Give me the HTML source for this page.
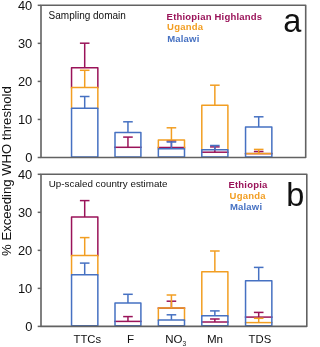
<!DOCTYPE html>
<html><head><meta charset="utf-8"><style>
html,body{margin:0;padding:0;background:#fff;}
body{width:308px;height:347px;overflow:hidden;}
svg{display:block;font-family:"Liberation Sans",sans-serif;}
svg{will-change:transform;}
</style></head><body>
<svg width="308" height="347" viewBox="0 0 308 347">
<line x1="84.70" y1="67.80" x2="84.70" y2="43.20" stroke="#9a1359" stroke-width="1.5" stroke-linecap="butt"/>
<line x1="79.90" y1="43.20" x2="89.50" y2="43.20" stroke="#9a1359" stroke-width="1.5" stroke-linecap="butt"/>
<path d="M71.55,88.35 L71.55,67.80 L97.85,67.80 L97.85,88.35" fill="none" stroke="#9a1359" stroke-width="1.5" stroke-linejoin="round" stroke-linecap="butt"/>
<line x1="84.70" y1="87.60" x2="84.70" y2="70.30" stroke="#f29e22" stroke-width="1.5" stroke-linecap="butt"/>
<line x1="79.90" y1="70.30" x2="89.50" y2="70.30" stroke="#f29e22" stroke-width="1.5" stroke-linecap="butt"/>
<path d="M71.55,108.95 L71.55,87.60 L97.85,87.60 L97.85,108.95" fill="none" stroke="#f29e22" stroke-width="1.5" stroke-linejoin="round" stroke-linecap="butt"/>
<line x1="84.70" y1="108.20" x2="84.70" y2="96.50" stroke="#4671c2" stroke-width="1.5" stroke-linecap="butt"/>
<line x1="79.90" y1="96.50" x2="89.50" y2="96.50" stroke="#4671c2" stroke-width="1.5" stroke-linecap="butt"/>
<path d="M71.55,156.95 L71.55,108.20 L97.85,108.20 L97.85,156.95 Z" fill="none" stroke="#4671c2" stroke-width="1.5" stroke-linejoin="round" stroke-linecap="butt"/>
<line x1="127.95" y1="147.30" x2="127.95" y2="137.10" stroke="#9a1359" stroke-width="1.5" stroke-linecap="butt"/>
<line x1="123.15" y1="137.10" x2="132.75" y2="137.10" stroke="#9a1359" stroke-width="1.5" stroke-linecap="butt"/>
<line x1="114.25" y1="147.30" x2="141.65" y2="147.30" stroke="#9a1359" stroke-width="1.5" stroke-linecap="butt"/>
<line x1="127.95" y1="132.40" x2="127.95" y2="121.80" stroke="#4671c2" stroke-width="1.5" stroke-linecap="butt"/>
<line x1="123.15" y1="121.80" x2="132.75" y2="121.80" stroke="#4671c2" stroke-width="1.5" stroke-linecap="butt"/>
<path d="M115.00,156.95 L115.00,132.40 L140.90,132.40 L140.90,156.95 Z" fill="none" stroke="#4671c2" stroke-width="1.5" stroke-linejoin="round" stroke-linecap="butt"/>
<line x1="171.43" y1="147.50" x2="171.43" y2="140.90" stroke="#9a1359" stroke-width="1.5" stroke-linecap="butt"/>
<line x1="166.62" y1="140.90" x2="176.23" y2="140.90" stroke="#9a1359" stroke-width="1.5" stroke-linecap="butt"/>
<line x1="157.60" y1="147.50" x2="185.25" y2="147.50" stroke="#9a1359" stroke-width="1.5" stroke-linecap="butt"/>
<line x1="171.43" y1="140.00" x2="171.43" y2="127.80" stroke="#f29e22" stroke-width="1.5" stroke-linecap="butt"/>
<line x1="166.62" y1="127.80" x2="176.23" y2="127.80" stroke="#f29e22" stroke-width="1.5" stroke-linecap="butt"/>
<path d="M158.35,149.55 L158.35,140.00 L184.50,140.00 L184.50,149.55" fill="none" stroke="#f29e22" stroke-width="1.5" stroke-linejoin="round" stroke-linecap="butt"/>
<line x1="171.43" y1="148.80" x2="171.43" y2="142.00" stroke="#4671c2" stroke-width="1.5" stroke-linecap="butt"/>
<line x1="166.62" y1="142.00" x2="176.23" y2="142.00" stroke="#4671c2" stroke-width="1.5" stroke-linecap="butt"/>
<path d="M158.35,156.95 L158.35,148.80 L184.50,148.80 L184.50,156.95 Z" fill="none" stroke="#4671c2" stroke-width="1.5" stroke-linejoin="round" stroke-linecap="butt"/>
<line x1="214.85" y1="152.20" x2="214.85" y2="146.90" stroke="#9a1359" stroke-width="1.5" stroke-linecap="butt"/>
<line x1="210.05" y1="146.90" x2="219.65" y2="146.90" stroke="#9a1359" stroke-width="1.5" stroke-linecap="butt"/>
<line x1="201.05" y1="152.20" x2="228.65" y2="152.20" stroke="#9a1359" stroke-width="1.5" stroke-linecap="butt"/>
<line x1="214.85" y1="105.20" x2="214.85" y2="85.20" stroke="#f29e22" stroke-width="1.5" stroke-linecap="butt"/>
<line x1="210.05" y1="85.20" x2="219.65" y2="85.20" stroke="#f29e22" stroke-width="1.5" stroke-linecap="butt"/>
<path d="M201.80,150.55 L201.80,105.20 L227.90,105.20 L227.90,150.55" fill="none" stroke="#f29e22" stroke-width="1.5" stroke-linejoin="round" stroke-linecap="butt"/>
<line x1="214.85" y1="149.80" x2="214.85" y2="145.50" stroke="#4671c2" stroke-width="1.5" stroke-linecap="butt"/>
<line x1="210.05" y1="145.50" x2="219.65" y2="145.50" stroke="#4671c2" stroke-width="1.5" stroke-linecap="butt"/>
<path d="M201.80,156.95 L201.80,149.80 L227.90,149.80 L227.90,156.95 Z" fill="none" stroke="#4671c2" stroke-width="1.5" stroke-linejoin="round" stroke-linecap="butt"/>
<line x1="258.70" y1="153.60" x2="258.70" y2="151.50" stroke="#9a1359" stroke-width="1.5" stroke-linecap="butt"/>
<line x1="253.90" y1="151.50" x2="263.50" y2="151.50" stroke="#9a1359" stroke-width="1.5" stroke-linecap="butt"/>
<line x1="244.80" y1="153.60" x2="272.60" y2="153.60" stroke="#9a1359" stroke-width="1.5" stroke-linecap="butt"/>
<line x1="258.70" y1="153.60" x2="258.70" y2="149.40" stroke="#f29e22" stroke-width="1.5" stroke-linecap="butt"/>
<line x1="253.90" y1="149.40" x2="263.50" y2="149.40" stroke="#f29e22" stroke-width="1.5" stroke-linecap="butt"/>
<line x1="244.80" y1="153.60" x2="272.60" y2="153.60" stroke="#f29e22" stroke-width="1.5" stroke-linecap="butt"/>
<line x1="258.70" y1="127.00" x2="258.70" y2="116.80" stroke="#4671c2" stroke-width="1.5" stroke-linecap="butt"/>
<line x1="253.90" y1="116.80" x2="263.50" y2="116.80" stroke="#4671c2" stroke-width="1.5" stroke-linecap="butt"/>
<path d="M245.55,156.95 L245.55,127.00 L271.85,127.00 L271.85,156.95 Z" fill="none" stroke="#4671c2" stroke-width="1.5" stroke-linejoin="round" stroke-linecap="butt"/>
<path d="M41.0,5.3 H305.7 V157.5 H41.0 Z" fill="none" stroke="#626262" stroke-width="1.6" stroke-linejoin="round"/>
<line x1="37.70" y1="157.50" x2="41.00" y2="157.50" stroke="#626262" stroke-width="1.5" stroke-linecap="butt"/>
<text x="32.3" y="161.75" font-size="12.9" fill="#111" text-anchor="end">0</text>
<line x1="37.70" y1="119.45" x2="41.00" y2="119.45" stroke="#626262" stroke-width="1.5" stroke-linecap="butt"/>
<text x="32.3" y="123.7" font-size="12.9" fill="#111" text-anchor="end">10</text>
<line x1="37.70" y1="81.40" x2="41.00" y2="81.40" stroke="#626262" stroke-width="1.5" stroke-linecap="butt"/>
<text x="32.3" y="85.65" font-size="12.9" fill="#111" text-anchor="end">20</text>
<line x1="37.70" y1="43.35" x2="41.00" y2="43.35" stroke="#626262" stroke-width="1.5" stroke-linecap="butt"/>
<text x="32.3" y="47.60000000000001" font-size="12.9" fill="#111" text-anchor="end">30</text>
<line x1="37.70" y1="5.30" x2="41.00" y2="5.30" stroke="#626262" stroke-width="1.5" stroke-linecap="butt"/>
<text x="32.3" y="9.550000000000011" font-size="12.9" fill="#111" text-anchor="end">40</text>
<line x1="84.70" y1="217.00" x2="84.70" y2="200.60" stroke="#9a1359" stroke-width="1.5" stroke-linecap="butt"/>
<line x1="79.90" y1="200.60" x2="89.50" y2="200.60" stroke="#9a1359" stroke-width="1.5" stroke-linecap="butt"/>
<path d="M71.55,256.35 L71.55,217.00 L97.85,217.00 L97.85,256.35" fill="none" stroke="#9a1359" stroke-width="1.5" stroke-linejoin="round" stroke-linecap="butt"/>
<line x1="84.70" y1="255.60" x2="84.70" y2="237.60" stroke="#f29e22" stroke-width="1.5" stroke-linecap="butt"/>
<line x1="79.90" y1="237.60" x2="89.50" y2="237.60" stroke="#f29e22" stroke-width="1.5" stroke-linecap="butt"/>
<path d="M71.55,275.55 L71.55,255.60 L97.85,255.60 L97.85,275.55" fill="none" stroke="#f29e22" stroke-width="1.5" stroke-linejoin="round" stroke-linecap="butt"/>
<line x1="84.70" y1="274.80" x2="84.70" y2="263.10" stroke="#4671c2" stroke-width="1.5" stroke-linecap="butt"/>
<line x1="79.90" y1="263.10" x2="89.50" y2="263.10" stroke="#4671c2" stroke-width="1.5" stroke-linecap="butt"/>
<path d="M71.55,325.85 L71.55,274.80 L97.85,274.80 L97.85,325.85 Z" fill="none" stroke="#4671c2" stroke-width="1.5" stroke-linejoin="round" stroke-linecap="butt"/>
<line x1="127.95" y1="321.40" x2="127.95" y2="316.60" stroke="#9a1359" stroke-width="1.5" stroke-linecap="butt"/>
<line x1="123.15" y1="316.60" x2="132.75" y2="316.60" stroke="#9a1359" stroke-width="1.5" stroke-linecap="butt"/>
<line x1="114.25" y1="321.40" x2="141.65" y2="321.40" stroke="#9a1359" stroke-width="1.5" stroke-linecap="butt"/>
<line x1="127.95" y1="303.00" x2="127.95" y2="294.30" stroke="#4671c2" stroke-width="1.5" stroke-linecap="butt"/>
<line x1="123.15" y1="294.30" x2="132.75" y2="294.30" stroke="#4671c2" stroke-width="1.5" stroke-linecap="butt"/>
<path d="M115.00,325.85 L115.00,303.00 L140.90,303.00 L140.90,325.85 Z" fill="none" stroke="#4671c2" stroke-width="1.5" stroke-linejoin="round" stroke-linecap="butt"/>
<line x1="171.43" y1="308.10" x2="171.43" y2="301.20" stroke="#9a1359" stroke-width="1.5" stroke-linecap="butt"/>
<line x1="166.62" y1="301.20" x2="176.23" y2="301.20" stroke="#9a1359" stroke-width="1.5" stroke-linecap="butt"/>
<line x1="157.60" y1="308.10" x2="185.25" y2="308.10" stroke="#9a1359" stroke-width="1.5" stroke-linecap="butt"/>
<line x1="171.43" y1="308.10" x2="171.43" y2="295.00" stroke="#f29e22" stroke-width="1.5" stroke-linecap="butt"/>
<line x1="166.62" y1="295.00" x2="176.23" y2="295.00" stroke="#f29e22" stroke-width="1.5" stroke-linecap="butt"/>
<path d="M158.35,320.65 L158.35,308.10 L184.50,308.10 L184.50,320.65" fill="none" stroke="#f29e22" stroke-width="1.5" stroke-linejoin="round" stroke-linecap="butt"/>
<line x1="171.43" y1="319.90" x2="171.43" y2="314.80" stroke="#4671c2" stroke-width="1.5" stroke-linecap="butt"/>
<line x1="166.62" y1="314.80" x2="176.23" y2="314.80" stroke="#4671c2" stroke-width="1.5" stroke-linecap="butt"/>
<path d="M158.35,325.85 L158.35,319.90 L184.50,319.90 L184.50,325.85 Z" fill="none" stroke="#4671c2" stroke-width="1.5" stroke-linejoin="round" stroke-linecap="butt"/>
<line x1="214.85" y1="322.00" x2="214.85" y2="319.00" stroke="#9a1359" stroke-width="1.5" stroke-linecap="butt"/>
<line x1="210.05" y1="319.00" x2="219.65" y2="319.00" stroke="#9a1359" stroke-width="1.5" stroke-linecap="butt"/>
<line x1="201.05" y1="322.00" x2="228.65" y2="322.00" stroke="#9a1359" stroke-width="1.5" stroke-linecap="butt"/>
<line x1="214.85" y1="271.80" x2="214.85" y2="251.00" stroke="#f29e22" stroke-width="1.5" stroke-linecap="butt"/>
<line x1="210.05" y1="251.00" x2="219.65" y2="251.00" stroke="#f29e22" stroke-width="1.5" stroke-linecap="butt"/>
<path d="M201.80,316.55 L201.80,271.80 L227.90,271.80 L227.90,316.55" fill="none" stroke="#f29e22" stroke-width="1.5" stroke-linejoin="round" stroke-linecap="butt"/>
<line x1="214.85" y1="315.80" x2="214.85" y2="310.90" stroke="#4671c2" stroke-width="1.5" stroke-linecap="butt"/>
<line x1="210.05" y1="310.90" x2="219.65" y2="310.90" stroke="#4671c2" stroke-width="1.5" stroke-linecap="butt"/>
<path d="M201.80,325.85 L201.80,315.80 L227.90,315.80 L227.90,325.85 Z" fill="none" stroke="#4671c2" stroke-width="1.5" stroke-linejoin="round" stroke-linecap="butt"/>
<line x1="258.70" y1="317.10" x2="258.70" y2="312.40" stroke="#9a1359" stroke-width="1.5" stroke-linecap="butt"/>
<line x1="253.90" y1="312.40" x2="263.50" y2="312.40" stroke="#9a1359" stroke-width="1.5" stroke-linecap="butt"/>
<line x1="244.80" y1="317.10" x2="272.60" y2="317.10" stroke="#9a1359" stroke-width="1.5" stroke-linecap="butt"/>
<line x1="258.70" y1="322.60" x2="258.70" y2="318.30" stroke="#f29e22" stroke-width="1.5" stroke-linecap="butt"/>
<line x1="253.90" y1="318.30" x2="263.50" y2="318.30" stroke="#f29e22" stroke-width="1.5" stroke-linecap="butt"/>
<line x1="244.80" y1="322.60" x2="272.60" y2="322.60" stroke="#f29e22" stroke-width="1.5" stroke-linecap="butt"/>
<line x1="258.70" y1="280.80" x2="258.70" y2="267.40" stroke="#4671c2" stroke-width="1.5" stroke-linecap="butt"/>
<line x1="253.90" y1="267.40" x2="263.50" y2="267.40" stroke="#4671c2" stroke-width="1.5" stroke-linecap="butt"/>
<path d="M245.55,325.85 L245.55,280.80 L271.85,280.80 L271.85,325.85 Z" fill="none" stroke="#4671c2" stroke-width="1.5" stroke-linejoin="round" stroke-linecap="butt"/>
<path d="M41.0,174.3 H306.8 V326.4 H41.0 Z" fill="none" stroke="#626262" stroke-width="1.6" stroke-linejoin="round"/>
<line x1="37.70" y1="326.40" x2="41.00" y2="326.40" stroke="#626262" stroke-width="1.5" stroke-linecap="butt"/>
<text x="32.3" y="330.65" font-size="12.9" fill="#111" text-anchor="end">0</text>
<line x1="37.70" y1="288.38" x2="41.00" y2="288.38" stroke="#626262" stroke-width="1.5" stroke-linecap="butt"/>
<text x="32.3" y="292.625" font-size="12.9" fill="#111" text-anchor="end">10</text>
<line x1="37.70" y1="250.35" x2="41.00" y2="250.35" stroke="#626262" stroke-width="1.5" stroke-linecap="butt"/>
<text x="32.3" y="254.6" font-size="12.9" fill="#111" text-anchor="end">20</text>
<line x1="37.70" y1="212.32" x2="41.00" y2="212.32" stroke="#626262" stroke-width="1.5" stroke-linecap="butt"/>
<text x="32.3" y="216.575" font-size="12.9" fill="#111" text-anchor="end">30</text>
<line x1="37.70" y1="174.30" x2="41.00" y2="174.30" stroke="#626262" stroke-width="1.5" stroke-linecap="butt"/>
<text x="32.3" y="178.55" font-size="12.9" fill="#111" text-anchor="end">40</text>
<text x="48.6" y="19.2" font-size="10" fill="#111" text-anchor="start">Sampling domain</text>
<text x="166.6" y="19.9" font-size="9.5" fill="#9a1359" font-weight="bold" text-anchor="start" letter-spacing="0.2">Ethiopian Highlands</text>
<text x="167.1" y="30.3" font-size="9.5" fill="#f29e22" font-weight="bold" text-anchor="start" letter-spacing="0.2">Uganda</text>
<text x="167.2" y="41.6" font-size="9.5" fill="#4671c2" font-weight="bold" text-anchor="start" letter-spacing="0.2">Malawi</text>
<text x="283.2" y="31.5" font-size="32.5" fill="#111" text-anchor="start">a</text>
<text x="48.8" y="186.9" font-size="9.8" fill="#111" text-anchor="start">Up-scaled country estimate</text>
<text x="228.4" y="187.6" font-size="9.5" fill="#9a1359" font-weight="bold" text-anchor="start" letter-spacing="0.2">Ethiopia</text>
<text x="229.6" y="198.9" font-size="9.5" fill="#f29e22" font-weight="bold" text-anchor="start" letter-spacing="0.2">Uganda</text>
<text x="229.9" y="209.6" font-size="9.5" fill="#4671c2" font-weight="bold" text-anchor="start" letter-spacing="0.2">Malawi</text>
<text x="286.2" y="206.4" font-size="32.5" fill="#111" text-anchor="start">b</text>
<text x="87.3" y="343.1" font-size="11.3" fill="#111" text-anchor="middle">TTCs</text>
<text x="130.6" y="343.1" font-size="11.6" fill="#111" text-anchor="middle">F</text>
<text x="165.2" y="343.2" font-size="11.5" fill="#111" text-anchor="start">NO<tspan font-size="6.6" dy="2.5">3</tspan></text>
<text x="214.95" y="343.1" font-size="11.6" fill="#111" text-anchor="middle">Mn</text>
<text x="259.9" y="343.1" font-size="11.3" fill="#111" text-anchor="middle">TDS</text>
<text transform="translate(10.5,171.1) rotate(-90)" font-size="13.1" fill="#111" text-anchor="middle">% Exceeding WHO threshold</text>
</svg></body></html>
